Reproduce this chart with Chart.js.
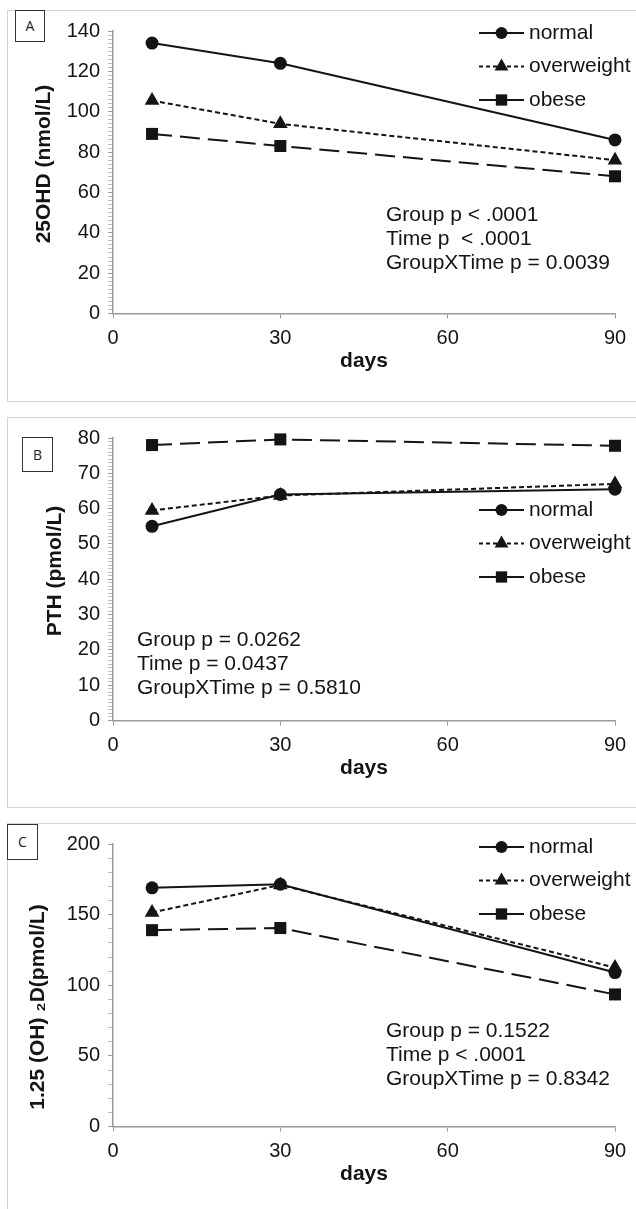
<!DOCTYPE html>
<html>
<head>
<meta charset="utf-8">
<script src="https://cdn.jsdelivr.net/npm/chart.js@4.4.0/dist/chart.umd.min.js"></script>
<style>
  html, body { margin: 0; padding: 0; background: #fff; }
  body { position: relative; width: 636px; height: 1209px; overflow: hidden; }
  .panel { position: absolute; left: 7px; width: 660px; border: 1.5px solid #d4d4d4; box-sizing: border-box; }
  .tag { position: absolute; box-sizing: border-box; border: 1px solid #333; background: #fff;
         font: 14px "Open Sans", sans-serif; color: #222; text-align: center; }
  .wrap { position: absolute; left: 0; width: 636px; height: 400px; }
</style>
</head>
<body>
<div class="panel" style="top:10px;height:392px"></div>
<div class="panel" style="top:417px;height:391px"></div>
<div class="panel" style="top:823px;height:420px"></div>

<div class="wrap" style="top:0px"><canvas id="chartA" width="636" height="400"></canvas></div>
<div class="wrap" style="top:407px"><canvas id="chartB" width="636" height="400"></canvas></div>
<div class="wrap" style="top:813px"><canvas id="chartC" width="636" height="400"></canvas></div>

<div class="tag" style="left:15px;top:10px;width:30px;height:32px;line-height:30px">A</div>
<div class="tag" style="left:22px;top:437px;width:31px;height:35px;line-height:33px">B</div>
<div class="tag" style="left:7px;top:824px;width:31px;height:36px;line-height:34px">C</div>

<script>
// ---- data ----
const days = [7, 30, 90];
const groups = ['normal', 'overweight', 'obese'];

// panel A: 25OHD (nmol/L)
const ohdNormal = [134, 124, 86];
const ohdOverweight = [105.5, 94, 76];
const ohdObese = [89, 83, 68];

// panel B: PTH (pmol/L)
const pthNormal = [55, 64, 65.5];
const pthOverweight = [59.5, 63.7, 67];
const pthObese = [78, 79.6, 77.8];

// panel C: 1.25 (OH)2D (pmol/L)
const vitdNormal = [169, 171.5, 109];
const vitdOverweight = [151.5, 171, 112.5];
const vitdObese = [139, 140.5, 93.5];

const notesA = ['Group p < .0001', 'Time p  < .0001', 'GroupXTime p = 0.0039'];
const notesB = ['Group p = 0.0262', 'Time p = 0.0437', 'GroupXTime p = 0.5810'];
const notesC = ['Group p = 0.1522', 'Time p < .0001', 'GroupXTime p = 0.8342'];

const ink = '#141414';
const axisGrey = '#9a9a9a';
const FONT = '"Liberation Sans", Arial, sans-serif';

const lineDash = [[], [5, 3], [20, 8]];
const legendDash = [[], [4, 3], []];   // excel draws the obese legend key solid
const markers = [
    { style: 'circle', r: 6.5 },
    { style: 'triangle', r: 8.5 },
    { style: 'rect', r: 8.5 }
];

// legend, axis title and p-value notes
const panelDecor = {
    id: 'panelDecor',
    afterDatasetsDraw(chart, args, opts) {
        const ctx = chart.ctx;
        ctx.save();
        ctx.fillStyle = ink;
        ctx.strokeStyle = ink;

        // rotated y title
        ctx.save();
        ctx.font = 'bold 21px ' + FONT;
        ctx.textAlign = 'center';
        ctx.textBaseline = 'middle';
        ctx.translate(opts.yTitle.x, opts.yTitle.y);
        ctx.rotate(-Math.PI / 2);
        ctx.fillText(opts.yTitle.text, 0, 0);
        ctx.restore();

        // legend
        ctx.font = '21px ' + FONT;
        ctx.textAlign = 'left';
        ctx.textBaseline = 'middle';
        chart.data.datasets.forEach((ds, i) => {
            const y = opts.legend.top + i * 33.5;
            const x0 = opts.legend.left, x1 = x0 + 45;
            ctx.lineWidth = 2;
            ctx.setLineDash(legendDash[i]);
            ctx.beginPath();
            ctx.moveTo(x0, y);
            ctx.lineTo(x1, y);
            ctx.stroke();
            ctx.setLineDash([]);
            Chart.helpers.drawPoint(ctx, { pointStyle: ds.pointStyle, radius: ds.pointRadius - 0.5, rotation: 0, borderWidth: 0 }, (x0 + x1) / 2, y);
            ctx.fillText(ds.label, x1 + 5, y);
        });

        // notes
        opts.notes.text.forEach((t, i) => {
            ctx.fillText(t, opts.notes.x, opts.notes.y + i * 24);
        });
        ctx.restore();
    }
};

function makeDatasets(values) {
    return values.map((vals, i) => ({
        label: groups[i],
        data: vals.map((v, j) => ({ x: days[j], y: v })),
        borderColor: ink,
        backgroundColor: ink,
        borderWidth: 2,
        borderDash: lineDash[i],
        pointStyle: markers[i].style,
        pointRadius: markers[i].r,
        pointBackgroundColor: ink,
        pointBorderColor: ink,
        pointBorderWidth: 0,
        tension: 0,
        fill: false,
        clip: false
    }));
}

function drawPanel(canvasId, values, yMax, minorStep, majorStep, decor) {
    const ctx = document.getElementById(canvasId).getContext('2d');
    return new Chart(ctx, {
        type: 'line',
        data: { datasets: makeDatasets(values) },
        plugins: [panelDecor],
        options: {
            responsive: false,
            animation: false,
            layout: { padding: { top: 31, right: 21, left: 0, bottom: 0 } },
            plugins: {
                legend: { display: false },
                tooltip: { enabled: false },
                panelDecor: decor
            },
            scales: {
                x: {
                    type: 'linear',
                    min: 0,
                    max: 90,
                    border: { color: axisGrey, width: 1.5 },
                    grid: { drawOnChartArea: false, tickLength: 5, color: axisGrey, tickColor: axisGrey },
                    ticks: { stepSize: 30, padding: 8, color: ink, font: { family: FONT, size: 20 } },
                    title: { display: true, text: 'days', color: ink, font: { family: FONT, size: 21, weight: 'bold' }, padding: { top: 0, bottom: 26 } },
                    afterFit: s => { s.height = 86.5; }
                },
                y: {
                    min: 0,
                    max: yMax,
                    border: { color: axisGrey, width: 1.5 },
                    grid: {
                        drawOnChartArea: false,
                        tickLength: 5,
                        color: axisGrey,
                        tickColor: c => (Math.round(c.tick.value) % majorStep === 0 ? axisGrey : '#bdbdbd'),
                        tickWidth: 1
                    },
                    ticks: {
                        stepSize: minorStep,
                        maxTicksLimit: 1000,
                        autoSkip: false,
                        padding: 8,
                        color: ink,
                        font: { family: FONT, size: 20 },
                        callback: v => (Math.round(v) % majorStep === 0 ? String(v) : '')
                    },
                    afterFit: s => { s.width = 113; }
                }
            }
        }
    });
}

drawPanel('chartA', [ohdNormal, ohdOverweight, ohdObese], 140, 2, 20, {
    yTitle: { text: '25OHD (nmol/L)', x: 44, y: 164 },
    legend: { left: 479, top: 33 },
    notes: { text: notesA, x: 386, y: 215 }
});

drawPanel('chartB', [pthNormal, pthOverweight, pthObese], 80, 1, 10, {
    yTitle: { text: 'PTH (pmol/L)', x: 55, y: 164 },
    legend: { left: 479, top: 103 },
    notes: { text: notesB, x: 137, y: 233 }
});

drawPanel('chartC', [vitdNormal, vitdOverweight, vitdObese], 200, 10, 50, {
    yTitle: { text: '1.25 (OH) \u2082D(pmol/L)', x: 38, y: 194 },
    legend: { left: 479, top: 34 },
    notes: { text: notesC, x: 386, y: 218 }
});
</script>
</body>
</html>
